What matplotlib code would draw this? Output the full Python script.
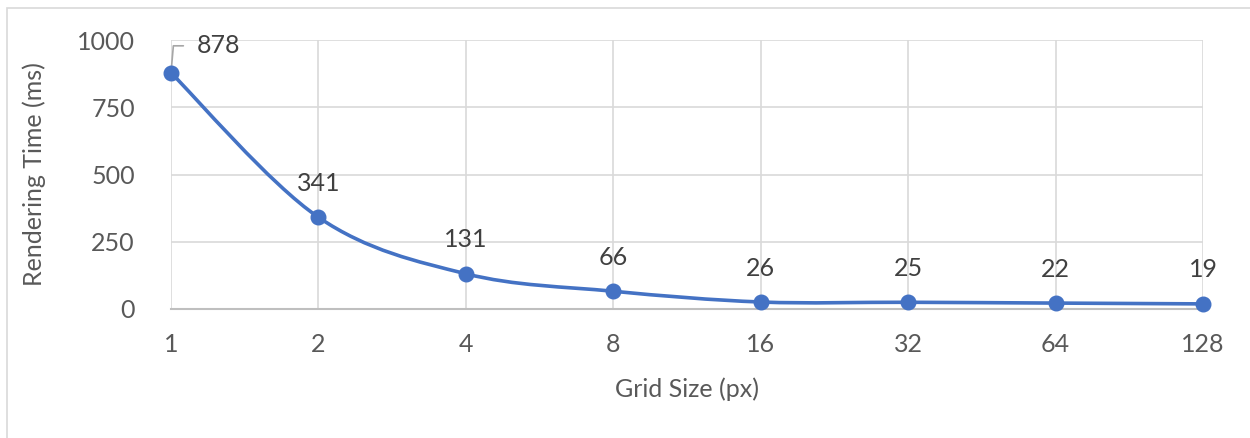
import numpy as np
import matplotlib
matplotlib.use("Agg")
import matplotlib.pyplot as plt
from matplotlib.patches import Rectangle
from matplotlib.path import Path
from matplotlib.patches import PathPatch

grid_sizes = ["1", "2", "4", "8", "16", "32", "64", "128"]
render_ms = [878, 341, 131, 66, 26, 25, 22, 19]

plt.rcParams["font.family"] = ["Lato", "DejaVu Sans"]

W, H = 1250, 438
FS = 18
fig = plt.figure(figsize=(W / 100, H / 100), dpi=100)
fig.patch.set_facecolor("white")

# outer chart frame
fig.patches.append(Rectangle((7 / W, -0.1), 1.2, 1 - 8 / H + 0.1, transform=fig.transFigure,
                             fill=False, edgecolor="#D9D9D9", linewidth=1.2))

ax = fig.add_axes([171 / W, 1 - 309 / H, (1203 - 171) / W, (309 - 40) / H])
x = np.arange(len(render_ms))
y = np.array(render_ms, dtype=float)

ax.set_xlim(0, len(x) - 1)
ax.set_ylim(0, 1000)
ax.set_yticks([0, 250, 500, 750, 1000])
ax.set_xticks(x)
ax.set_xticklabels(grid_sizes)

ax.grid(True, color="#D9D9D9", linewidth=1.2)
ax.set_axisbelow(True)
for side in ["top", "right", "left"]:
    ax.spines[side].set_visible(False)
ax.spines["bottom"].set_color("#BFBFBF")
ax.spines["bottom"].set_linewidth(1.5)
ax.tick_params(length=0, labelsize=FS, colors="#595959", pad=17)
ax.tick_params(axis="y", pad=26)

# smoothed line: cubic Bezier segments with Catmull-Rom style control points
verts = [(x[0], y[0])]
codes = [Path.MOVETO]
n = len(x)
for i in range(n - 1):
    p0 = np.array([x[max(i - 1, 0)], y[max(i - 1, 0)]])
    p1 = np.array([x[i], y[i]])
    p2 = np.array([x[i + 1], y[i + 1]])
    p3 = np.array([x[min(i + 2, n - 1)], y[min(i + 2, n - 1)]])
    c1 = p1 + (p2 - p0) / 6.0
    c2 = p2 - (p3 - p1) / 6.0
    verts += [tuple(c1), tuple(c2), tuple(p2)]
    codes += [Path.CURVE4, Path.CURVE4, Path.CURVE4]
ax.add_patch(PathPatch(Path(verts, codes), facecolor="none", edgecolor="#4472C4",
                       linewidth=2.6, capstyle="round", joinstyle="round", zorder=3,
                       clip_on=False))
ax.plot(x, y, linestyle="none", marker="o", markersize=10.5, color="#4472C4",
        zorder=4, clip_on=False)

# data labels
for i, v in enumerate(render_ms):
    if i == 0:
        ax.annotate(str(v), xy=(x[i], y[i]), xytext=(48, 27), textcoords="offset pixels",
                    ha="center", va="center", fontsize=FS, color="#404040",
                    arrowprops=dict(arrowstyle="-", color="#A6A6A6", linewidth=1.2,
                                    shrinkA=8, shrinkB=0,
                                    connectionstyle="angle,angleA=0,angleB=85,rad=0"),
                    annotation_clip=False)
    else:
        ax.annotate(str(v), xy=(x[i], y[i]), xytext=(0, 34), textcoords="offset pixels",
                    ha="center", va="center", fontsize=FS, color="#404040",
                    annotation_clip=False)

ax.set_xlabel("Grid Size (px)", fontsize=FS, color="#595959", labelpad=16)
ax.set_ylabel("Rendering Time (ms)", fontsize=FS, color="#595959", labelpad=22)

fig.savefig("out.png", dpi=100, facecolor="white")
